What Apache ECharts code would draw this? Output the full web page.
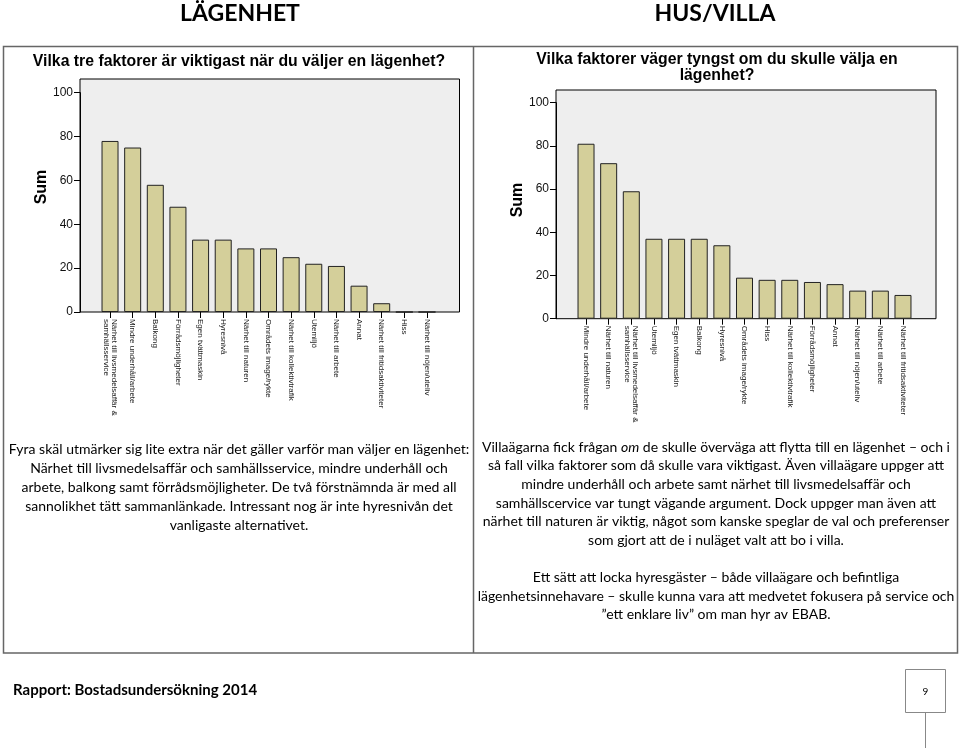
<!DOCTYPE html>
<html>
<head>
<meta charset="utf-8">
<script src="https://cdn.jsdelivr.net/npm/echarts@6/dist/echarts.min.js"></script>
<style>
html,body{margin:0;padding:0;background:#fff;}
#c{width:960px;height:748px;}
</style>
</head>
<body>
<div id="c"></div>
<script>
const leftCategories = [
  "Närhet till livsmedelsaffär &\nsamhällsservice",
  "Mindre underhåll/arbete",
  "Balkong",
  "Förrådsmöjligheter",
  "Egen tvättmaskin",
  "Hyresnivå",
  "Närhet till naturen",
  "Områdets image/rykte",
  "Närhet till kollektivtrafik",
  "Utemiljö",
  "Närhet till arbete",
  "Annat",
  "Närhet till fritidsaktiviteter",
  "Hiss",
  "Närhet till nöjen/uteliv"
];
const leftValues = [78, 75, 58, 48, 33, 33, 29, 29, 25, 22, 21, 12, 4, 0, 0];

const rightCategories = [
  "Mindre underhåll/arbete",
  "Närhet till naturen",
  "Närhet till livsmedelsaffär &\nsamhällsservice",
  "Utemiljö",
  "Egen tvättmaskin",
  "Balkong",
  "Hyresnivå",
  "Områdets image/rykte",
  "Hiss",
  "Närhet till kollektivtrafik",
  "Förrådsmöjligheter",
  "Annat",
  "Närhet till nöjen/uteliv",
  "Närhet till arbete",
  "Närhet till fritidsaktiviteter"
];
const rightValues = [81, 72, 59, 37, 37, 37, 34, 19, 18, 18, 17, 16, 13, 13, 11];

const yMin = 0, yMax = 100, yStep = 20;

const leftTitle = "Vilka tre faktorer är viktigast när du väljer en lägenhet?";
const rightTitle = "Vilka faktorer väger tyngst om du skulle välja en\nlägenhet?";
const leftHeading = "LÄGENHET";
const rightHeading = "HUS/VILLA";
const leftText = [
  "Fyra skäl utmärker sig lite extra när det gäller varför man väljer en lägenhet:",
  "Närhet till livsmedelsaffär och samhällsservice, mindre underhåll och",
  "arbete, balkong samt förrådsmöjligheter. De två förstnämnda är med all",
  "sannolikhet tätt sammanlänkade. Intressant nog är inte hyresnivån det",
  "vanligaste alternativet."
];
const rightText = [
  "Villaägarna fick frågan {i|om} de skulle överväga att flytta till en lägenhet – och i",
  "så fall vilka faktorer som då skulle vara viktigast. Även villaägare uppger att",
  "mindre underhåll och arbete samt närhet till livsmedelsaffär och",
  "samhällscervice var tungt vägande argument. Dock uppger man även att",
  "närhet till naturen är viktig, något som kanske speglar de val och preferenser",
  "som gjort att de i nuläget valt att bo i villa.",
  "",
  "Ett sätt att locka hyresgäster – både villaägare och befintliga",
  "lägenhetsinnehavare – skulle kunna vara att medvetet fokusera på service och",
  "”ett enklare liv” om man hyr av EBAB."
];
const footerText = "Rapport: Bostadsundersökning 2014";
const pageNumber = "9";

const chart = echarts.init(document.getElementById('c'), null, {renderer: 'canvas'});
const bodyFont = 'Lato, "Open Sans", sans-serif';
const chartFont = '"Liberation Sans", Arial, sans-serif';

function xAxisCfg(gi, cats) {
  return {
    type: 'category', gridIndex: gi, data: cats,
    axisLine: {show: false},
    axisTick: {show: true, alignWithLabel: true, length: 6, lineStyle: {color: '#000', width: 1}},
    axisLabel: {interval: 0, rotate: -90, margin: 7, fontFamily: chartFont, fontSize: 8, color: '#222', lineHeight: 8}
  };
}
function yAxisCfg(gi) {
  return {
    type: 'value', gridIndex: gi, min: yMin, max: yMax, interval: yStep, offset: 18.7,
    axisLine: {show: true, lineStyle: {color: '#000', width: 1}},
    axisTick: {show: true, length: 6, lineStyle: {color: '#000', width: 1}},
    axisLabel: {margin: 7, fontFamily: chartFont, fontSize: 12, color: '#111'},
    splitLine: {show: false}
  };
}
const barStyle = {color: '#d4cf9a', borderColor: '#222', borderWidth: 1};

const option = {
  animation: false,
  backgroundColor: '#fff',
  grid: [
    {left: 98.7, right: 960 - 438.3, top: 92.7, bottom: 748 - 312, containLabel: false},
    {left: 574.7, right: 960 - 914.3, top: 102.7, bottom: 748 - 318.7, containLabel: false}
  ],
  xAxis: [xAxisCfg(0, leftCategories), xAxisCfg(1, rightCategories)],
  yAxis: [yAxisCfg(0), yAxisCfg(1)],
  series: [
    {type: 'bar', xAxisIndex: 0, yAxisIndex: 0, data: leftValues, barWidth: 17, itemStyle: barStyle, z: 3},
    {type: 'bar', xAxisIndex: 1, yAxisIndex: 1, data: rightValues, barWidth: 17, itemStyle: barStyle, z: 3}
  ],
  graphic: [
    {type: 'rect', z: 0, shape: {x: 3.5, y: 46.5, width: 954, height: 606.5}, style: {fill: 'none', stroke: '#666', lineWidth: 1.5}},
    {type: 'line', z: 0, shape: {x1: 473.5, y1: 46.5, x2: 473.5, y2: 653}, style: {stroke: '#666', lineWidth: 1.5}},
    {type: 'rect', z: 0, shape: {x: 80, y: 79, width: 379.5, height: 233}, style: {fill: '#eeeeee', stroke: '#000', lineWidth: 1}},
    {type: 'rect', z: 0, shape: {x: 556, y: 90, width: 380, height: 228.7}, style: {fill: '#eeeeee', stroke: '#000', lineWidth: 1}},
    {type: 'text', z: 5, x: 240, y: 14, style: {text: leftHeading, align: 'center', verticalAlign: 'middle', font: 'bold 23px ' + bodyFont, fill: '#000'}},
    {type: 'text', z: 5, x: 715, y: 14, style: {text: rightHeading, align: 'center', verticalAlign: 'middle', font: 'bold 23px ' + bodyFont, fill: '#000'}},
    {type: 'text', z: 5, x: 239, y: 62, style: {text: leftTitle, align: 'center', verticalAlign: 'middle', font: 'bold 15.8px ' + chartFont, fill: '#000'}},
    {type: 'text', z: 5, x: 717, y: 52, style: {text: rightTitle, align: 'center', verticalAlign: 'top', font: 'bold 15.8px ' + chartFont, fill: '#000', lineHeight: 15.5}},
    {type: 'text', z: 5, x: 42, y: 187, rotation: Math.PI / 2, style: {text: 'Sum', align: 'center', verticalAlign: 'middle', font: 'bold 16px ' + chartFont, fill: '#000'}},
    {type: 'text', z: 5, x: 518, y: 200, rotation: Math.PI / 2, style: {text: 'Sum', align: 'center', verticalAlign: 'middle', font: 'bold 16px ' + chartFont, fill: '#000'}},
    {type: 'text', z: 5, x: 239, y: 440, style: {text: leftText.join('\n'), align: 'center', verticalAlign: 'top', font: '14px ' + bodyFont, fill: '#000', lineHeight: 19}},
    {type: 'text', z: 5, x: 716, y: 438, style: {
      text: rightText.join('\n'), align: 'center', verticalAlign: 'top', font: '14px ' + bodyFont, fill: '#000', lineHeight: 18.6,
      rich: {i: {font: 'italic 14px ' + bodyFont, fill: '#000', lineHeight: 18.6}}
    }},
    {type: 'text', z: 5, x: 13, y: 690, style: {text: footerText, align: 'left', verticalAlign: 'middle', font: 'bold 15px ' + bodyFont, fill: '#000'}},
    {type: 'rect', z: 0, shape: {x: 905.5, y: 669.5, width: 40, height: 43}, style: {fill: 'none', stroke: '#888', lineWidth: 1}},
    {type: 'line', z: 0, shape: {x1: 925.5, y1: 712.5, x2: 925.5, y2: 748}, style: {stroke: '#888', lineWidth: 1}},
    {type: 'text', z: 5, x: 925.5, y: 692, style: {text: pageNumber, align: 'center', verticalAlign: 'middle', font: '10px ' + bodyFont, fill: '#000'}}
  ]
};
chart.setOption(option);
</script>
</body>
</html>
